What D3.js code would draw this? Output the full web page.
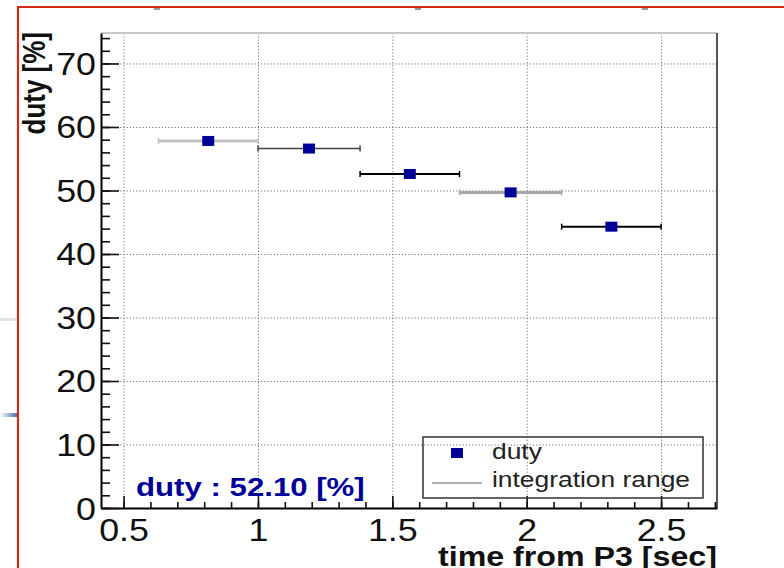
<!DOCTYPE html>
<html>
<head>
<meta charset="utf-8">
<script src="https://cdn.jsdelivr.net/npm/d3@7"></script>
<style>
body { margin: 0; background: #fff; }
svg { display: block; font-family: "Liberation Sans", Arial, Helvetica, sans-serif; }
</style>
</head>
<body>
<svg id="chart" width="784" height="568"></svg>
<script>
// integration ranges (bin edges, sec) and measured duty per range
const binEdges = [0.63, 1.0, 1.38, 1.75, 2.13, 2.5];
const dutyValues = [57.8, 56.6, 52.6, 49.7, 44.3];
const xTicks = [0.5, 1, 1.5, 2, 2.5];
const xTickLabels = ["0.5", "1", "1.5", "2", "2.5"];
const yTicks = [0, 10, 20, 30, 40, 50, 60, 70];
const yTickLabels = ["0", "10", "20", "30", "40", "50", "60", "70"];
const meanLabel = "duty : 52.10 [%]";
const legendLabels = ["duty", "integration range"];
const xTitle = "time from P3 [sec]";
const yTitle = "duty [%]";

// look of each error bar as it came out in the scanned plot
const barShade = [
    {color: "#c4c4c4", w: 3},
    {color: "#444", w: 1.5},
    {color: "#000", w: 2},
    {color: "#a8a8a8", w: 3},
    {color: "#000", w: 2}
];

const blue = "#000099";
const stretch = 1.15;   // the picture is a bit wider than tall

let svg = d3.select("#chart");

let frame = {left: 101, right: 717, top: 33, bottom: 508};

let x = d3.scaleLinear().domain([0.416, 2.708]).range([frame.left, frame.right]);
let y = d3.scaleLinear().domain([0, 74.8]).range([frame.bottom, frame.top]);

let points = dutyValues.map((v, i) => {
    return {lo: binEdges[i], hi: binEdges[i + 1], mid: (binEdges[i] + binEdges[i + 1]) / 2, v: v, i: i};
});

// slide border and bits of the slide around it
svg.append("line").attr("x1", 18).attr("x2", 784).attr("y1", 7).attr("y2", 7)
    .attr("stroke", "#d22a18").attr("stroke-width", 2.2);
svg.append("line").attr("x1", 18).attr("x2", 18).attr("y1", 6).attr("y2", 568)
    .attr("stroke", "#d22a18").attr("stroke-width", 2.2);
svg.append("rect").attr("x", 0).attr("y", 318).attr("width", 17).attr("height", 3).attr("fill", "#e2e2e2");
let grad = svg.append("defs").append("linearGradient").attr("id", "fade");
grad.append("stop").attr("offset", "0%").attr("stop-color", "#ffffff");
grad.append("stop").attr("offset", "100%").attr("stop-color", "#4a6fa8");
svg.append("rect").attr("x", 0).attr("y", 413).attr("width", 17).attr("height", 4).attr("fill", "url(#fade)");
[157, 418, 645].forEach(px => {
    svg.append("rect").attr("x", px - 3).attr("y", 8).attr("width", 6).attr("height", 2).attr("fill", "#999");
});

// grid
svg.append("g")
    .attr("transform", `translate(0,${frame.bottom})`)
    .call(d3.axisBottom(x).tickValues(xTicks).tickSize(-(frame.bottom - frame.top)).tickFormat(""))
    .call(g => g.select(".domain").remove())
    .call(g => g.selectAll("line").attr("stroke", "#777").attr("stroke-width", 1).attr("stroke-dasharray", "1.2,2"));
svg.append("g")
    .attr("transform", `translate(${frame.left},0)`)
    .call(d3.axisLeft(y).tickValues(yTicks.filter(d => d > 0)).tickSize(-(frame.right - frame.left)).tickFormat(""))
    .call(g => g.select(".domain").remove())
    .call(g => g.selectAll("line").attr("stroke", "#777").attr("stroke-width", 1).attr("stroke-dasharray", "1.2,2"));

// frame top and right
svg.append("line").attr("x1", frame.left).attr("x2", frame.right).attr("y1", frame.top).attr("y2", frame.top)
    .attr("stroke", "#c8c8c8").attr("stroke-width", 2);
svg.append("line").attr("x1", frame.right).attr("x2", frame.right).attr("y1", frame.top).attr("y2", frame.bottom)
    .attr("stroke", "#555").attr("stroke-width", 2);

// x axis: minor + major ticks pointing inward
let xAxis = svg.append("g").attr("transform", `translate(0,${frame.bottom})`);
xAxis.append("g")
    .call(d3.axisBottom(x).tickValues(d3.range(5, 28).map(d => d / 10)).tickSize(-6).tickFormat(""))
    .call(g => g.select(".domain").remove());
xAxis.append("g")
    .call(d3.axisBottom(x).tickValues(xTicks).tickSize(-12).tickSizeOuter(0)
        .tickFormat((d, i) => xTickLabels[i]))
    .call(g => g.select(".domain").attr("stroke-width", 2))
    .call(g => g.selectAll("text")
        .attr("y", null).attr("dy", null)
        .attr("transform", "translate(0,33) scale(1.12,1)")
        .attr("font-size", 32).attr("fill", "#111").attr("font-family", null));
xAxis.selectAll("line").attr("stroke", "#111").attr("stroke-width", 1.6);

// y axis
let yAxis = svg.append("g").attr("transform", `translate(${frame.left},0)`);
yAxis.append("g")
    .call(d3.axisLeft(y).tickValues(d3.range(0, 75, 2)).tickSize(-9).tickFormat(""))
    .call(g => g.select(".domain").remove());
yAxis.append("g")
    .call(d3.axisLeft(y).tickValues(yTicks).tickSize(-18).tickSizeOuter(0)
        .tickFormat((d, i) => yTickLabels[i]))
    .call(g => g.select(".domain").attr("stroke-width", 2))
    .call(g => g.selectAll("text")
        .attr("x", null).attr("dy", null)
        .attr("transform", "translate(-5,11) scale(1.12,1)")
        .attr("font-size", 32).attr("fill", "#111").attr("font-family", null));
yAxis.selectAll("line").attr("stroke", "#111").attr("stroke-width", 1.6);

// axis titles
svg.append("text")
    .attr("transform", `translate(${frame.right},566) scale(${stretch},1)`)
    .attr("text-anchor", "end")
    .attr("font-size", 28).attr("font-weight", "bold").attr("fill", "#111")
    .text(xTitle);
svg.append("text")
    .attr("transform", "translate(45,32) scale(1.2,1) rotate(-90)")
    .attr("text-anchor", "end")
    .attr("font-size", 26).attr("font-weight", "bold").attr("fill", "#111")
    .text(yTitle);

// error bars (integration range)
let bars = svg.append("g").selectAll("g").data(points).enter().append("g");
bars.append("line")
    .attr("x1", d => x(d.lo)).attr("x2", d => x(d.hi))
    .attr("y1", d => y(d.v)).attr("y2", d => y(d.v))
    .attr("stroke", d => barShade[d.i].color).attr("stroke-width", d => barShade[d.i].w);
bars.selectAll(".cap").data(d => [{px: x(d.lo), d: d}, {px: x(d.hi), d: d}]).enter()
    .append("line")
    .attr("x1", c => c.px).attr("x2", c => c.px)
    .attr("y1", c => y(c.d.v) - 3).attr("y2", c => y(c.d.v) + 3)
    .attr("stroke", c => barShade[c.d.i].color).attr("stroke-width", 1.5);

// markers
svg.append("g").selectAll("rect").data(points).enter().append("rect")
    .attr("x", d => x(d.mid) - 6).attr("y", d => y(d.v) - 5)
    .attr("width", 12).attr("height", 10)
    .attr("fill", blue);

// mean duty
svg.append("text")
    .attr("transform", "translate(136,496) scale(1.2,1)")
    .attr("font-size", 26).attr("font-weight", "bold").attr("fill", blue)
    .text(meanLabel);

// legend
let legend = svg.append("g");
legend.append("rect").attr("x", 423).attr("y", 437).attr("width", 280).attr("height", 61)
    .attr("fill", "none").attr("stroke", "#333").attr("stroke-width", 1.5);
legend.append("rect").attr("x", 451).attr("y", 448).attr("width", 12).attr("height", 10).attr("fill", blue);
legend.append("line").attr("x1", 432).attr("x2", 482).attr("y1", 483).attr("y2", 483)
    .attr("stroke", "#666").attr("stroke-width", 1.2);
legend.selectAll(".lbl").data(legendLabels).enter().append("text")
    .attr("transform", (d, i) => `translate(492,${i === 0 ? 459 : 487}) scale(1.2,1)`)
    .attr("font-size", 22).attr("fill", "#222")
    .text(d => d);
</script>
</body>
</html>
